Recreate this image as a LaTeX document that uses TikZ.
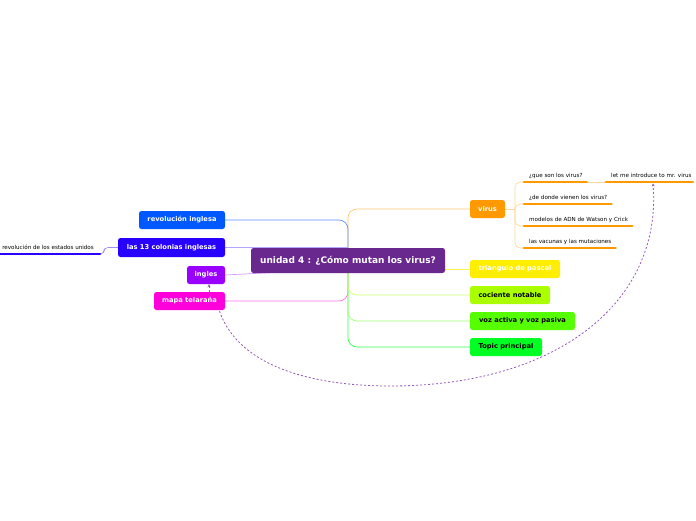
\documentclass[tikz,border=0pt]{standalone}
\usepackage{fontspec}
\setmainfont{DejaVu Sans}
\usetikzlibrary{calc,backgrounds,arrows.meta}
\definecolor{cmain}{RGB}{104,40,142}
\definecolor{crev}{RGB}{0,89,255}
\definecolor{ccol}{RGB}{40,0,255}
\definecolor{cing}{RGB}{153,0,255}
\definecolor{cmap}{RGB}{255,0,221}
\definecolor{cvir}{RGB}{255,153,0}
\definecolor{ctri}{RGB}{255,238,0}
\definecolor{ccoc}{RGB}{170,255,0}
\definecolor{cvoz}{RGB}{85,255,0}
\definecolor{ctop}{RGB}{0,255,34}
\definecolor{crel}{RGB}{150,90,190}
\begin{document}
\begin{tikzpicture}[x=1pt,y=-1pt,
  topic/.style={rounded corners=2.5pt, minimum height=18pt, inner sep=0pt,
    font=\bfseries\fontsize{6.7}{7.7}\selectfont, text=white},
  dark/.style={text=black},
  sub/.style={font=\fontsize{5.6}{6.6}\selectfont, inner sep=0pt, anchor=base west},
  conn/.style={line width=0.7pt, rounded corners=9pt},
  uline/.style={line width=2.8pt, line cap=round},
  rel/.style={crel, line width=0.8pt, dash pattern=on 2pt off 2pt}]
\useasboundingbox (0,0) rectangle (696,520);
% central
\node[topic, fill=cmain, minimum width=194pt, minimum height=25pt,
  font=\bfseries\fontsize{9}{10}\selectfont] (c) at (348,260.5) {unidad 4 : ¿Cómo mutan los virus?};
% left topics
\node[topic, fill=crev, minimum width=86pt] (rev) at (182,220) {revolución inglesa};
\node[topic, fill=ccol, minimum width=107pt, minimum height=19pt] (col) at (171.5,247.5) {las 13 colonias inglesas};
\node[topic, fill=cing, minimum width=38pt] (ing) at (206,275) {ingles};
\node[topic, fill=cmap, minimum width=71pt] (map) at (189.5,301) {mapa telaraña};
% right topics
\node[topic, fill=cvir, minimum width=35pt] (vir) at (487.5,209) {virus};
\node[topic, fill=ctri, minimum width=90pt] (tri) at (515,269) {triangulo de pascal};
\node[topic, dark, fill=ccoc, minimum width=80pt] (coc) at (510,295) {cociente notable};
\node[topic, dark, fill=cvoz, minimum width=105pt] (voz) at (522.5,321) {voz activa y voz pasiva};
\node[topic, dark, fill=ctop, minimum width=72pt] (top) at (506,347) {Topic principal};
% virus subtopics
\node[sub] (s1) at (529,177) {¿que son los virus?};
\node[sub] (s5) at (611,177) {let me introduce to mr. virus};
\node[sub] (s2) at (529,199) {¿de donde vienen los virus?};
\node[sub] (s3) at (529,221) {modelos de ADN de Watson y Crick};
\node[sub] (s4) at (529,243) {las vacunas y las mutaciones};
% left subtopic
\node[sub, anchor=base east] (l1) at (94,249) {la revolución de los estados unidos};
% underline coordinates
\coordinate (s1a) at ($(s1.base west)+(-5,5)$);
\coordinate (s1b) at ($(s1.base east)+(4,5)$);
\coordinate (s5a) at ($(s5.base west)+(-5,5)$);
\coordinate (s5b) at ($(s5.base east)+(1,5)$);
\coordinate (s2a) at ($(s2.base west)+(-5,5)$);
\coordinate (s2b) at ($(s2.base east)+(4,5)$);
\coordinate (s3a) at ($(s3.base west)+(-5,5)$);
\coordinate (s3b) at ($(s3.base east)+(4,5)$);
\coordinate (s4a) at ($(s4.base west)+(-5,5)$);
\coordinate (s4b) at ($(s4.base east)+(4,5)$);
\coordinate (l1a) at ($(l1.base west)+(-5,5)$);
\coordinate (l1b) at ($(l1.base east)+(6,5)$);
\coordinate (vb) at (515,209);
\coordinate (relend) at ($(s5a)+(47,1.5)$);
\begin{scope}[on background layer]
  \fill[white] (0,0) rectangle (696,520);
  % main connectors
  \draw[conn, cvir!55] (c.north) |- (vir.west);
  \draw[conn, crev!65] (c.north) |- (rev.east);
  \draw[conn, ccol!35] (col.east) -- (col.east -| c.center);
  \draw[conn, cing!40] (ing.east) -- ($(c.south)+(-50,-2)$);
  \draw[conn, cmap!55] (c.south) |- (map.east);
  \draw[conn, ctri!70] (tri.west) -- (tri.west -| c.center);
  \draw[conn, ctop!80] (c.south) |- (top.west);
  \draw[conn, cvoz!55] (c.south) |- (voz.west);
  \draw[conn, ccoc!55] (c.south) |- (coc.west);
  % virus branch
  \draw[line width=0.6pt, cvir!40] (vir.east) -- (vb);
  \draw[line width=0.6pt, cvir!40, rounded corners=5pt] (vb) |- (s1a);
  \draw[line width=0.6pt, cvir!40, rounded corners=5pt] (vb) |- (s2a);
  \draw[line width=0.6pt, cvir!40, rounded corners=5pt] (vb) |- (s3a);
  \draw[line width=0.6pt, cvir!40, rounded corners=5pt] (vb) |- (s4a);
  \draw[line width=0.6pt, cvir!40] (s1b) -- (s5a);
  % left branch
  \draw[line width=0.6pt, ccol!45, rounded corners=4pt] (l1b) -- ($(l1b)+(4,0)$) |- (col.west);
\end{scope}
% underlines
\draw[uline, cvir] (s1a) -- (s1b);
\draw[uline, cvir] (s5a) -- (s5b);
\draw[uline, cvir] (s2a) -- (s2b);
\draw[uline, cvir] (s3a) -- (s3b);
\draw[uline, cvir] (s4a) -- (s4b);
\draw[uline, ccol] (l1a) -- (l1b);
% relationships
\draw[rel, -{Stealth[length=3pt,width=3pt]}] ($(map.north)+(19.5,0)$) -- ($(ing.south)+(3,0)$);
\draw[rel, -{Stealth[length=3pt,width=3pt]}] ($(map.south)+(30,1)$)
  .. controls (240,370) and (320,386) .. (390,386)
  .. controls (560,386) and (662,300) .. (relend);
\end{tikzpicture}
\end{document}
